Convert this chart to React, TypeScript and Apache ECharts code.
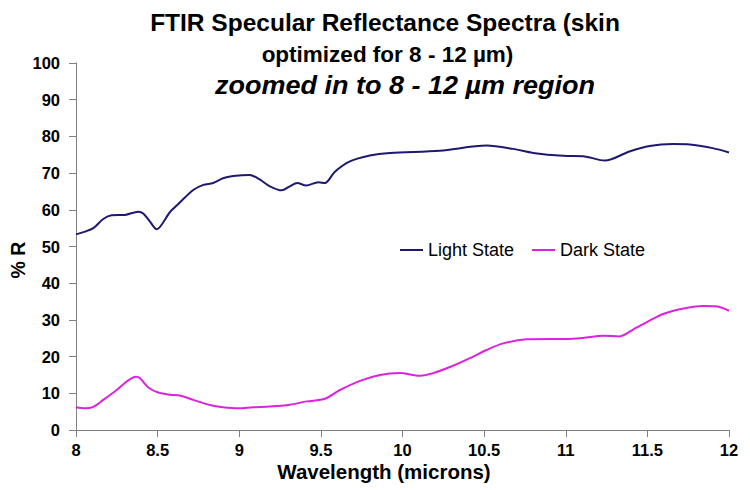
import React, { useEffect, useRef } from "react";
import * as echarts from "echarts";

const titleLines = [
  "FTIR Specular Reflectance Spectra (skin",
  "optimized for 8 - 12 µm)",
  "zoomed in to 8 - 12 µm region",
];
const xAxisName = "Wavelength (microns)";
const yAxisName = "% R";
const seriesNames = ["Light State", "Dark State"];

const lightWavelengths = [
  8.0, 8.05, 8.106, 8.167, 8.218, 8.3, 8.382, 8.412, 8.453, 8.494, 8.576, 8.627,
  8.718, 8.78, 8.84, 8.9, 8.963, 9.065, 9.127, 9.188, 9.26, 9.31, 9.355, 9.41,
  9.484, 9.525, 9.586, 9.678, 9.8, 9.923, 10.229, 10.515, 10.678, 10.8, 10.984,
  11.106, 11.24, 11.39, 11.514, 11.657, 11.76, 11.9, 12.0,
];
const lightValues = [
  53.3, 54.0, 55.0, 57.5, 58.5, 58.6, 59.5, 59.0, 56.8, 54.7, 59.4, 61.6,
  65.4, 66.8, 67.3, 68.6, 69.2, 69.5, 68.2, 66.4, 65.3, 66.4, 67.3, 66.6,
  67.5, 67.3, 70.4, 73.2, 74.8, 75.5, 76.1, 77.5, 76.6, 75.5, 74.7,
  74.6, 73.4, 75.9, 77.4, 77.9, 77.8, 76.8, 75.6,
];

const darkWavelengths = [
  8.0, 8.055, 8.106, 8.167, 8.249, 8.31, 8.367, 8.392, 8.443, 8.504, 8.576,
  8.637, 8.718, 8.82, 8.9, 8.994, 9.086, 9.188, 9.31, 9.413, 9.525, 9.617, 9.74,
  9.862, 9.984, 10.106, 10.188, 10.31, 10.41, 10.515, 10.617, 10.76, 10.9, 11.0,
  11.106, 11.228, 11.33, 11.41, 11.514, 11.596, 11.698, 11.84, 11.92, 12.0,
];
const darkValues = [
  6.2, 5.9, 6.3, 8.2, 10.9, 13.2, 14.5, 14.1, 11.6, 10.2, 9.6,
  9.4, 8.2, 6.8, 6.2, 5.9, 6.2, 6.4, 6.9, 7.8, 8.5, 10.9, 13.4,
  15.0, 15.5, 14.8, 15.5, 17.5, 19.5, 21.8, 23.6, 24.7, 24.8, 24.8,
  25.1, 25.7, 25.5, 27.3, 29.8, 31.6, 32.9, 33.8, 33.7, 32.5,
];

const FONT = "'Liberation Sans', Arial, sans-serif";

export default function App() {
  const ref = useRef<HTMLDivElement>(null);
  useEffect(() => {
    if (!ref.current) return;
    const chart = echarts.init(ref.current, undefined, { renderer: "svg" });
    const lightData = lightWavelengths.map((w, i) => [w, lightValues[i]]);
    const darkData = darkWavelengths.map((w, i) => [w, darkValues[i]]);
    const textStyle = (text: string, size: number, italic: boolean) => ({
      text,
      fontFamily: FONT,
      fontWeight: "bold",
      fontStyle: italic ? "italic" : "normal",
      fontSize: size,
      fill: "#000",
      textAlign: "center",
      textVerticalAlign: "middle",
    });
    chart.setOption({
      animation: false,
      backgroundColor: "#ffffff",
      textStyle: { fontFamily: FONT },
      grid: { left: 76, right: 21, top: 63, bottom: 60, containLabel: false },
      graphic: [
        { type: "text", x: 385, y: 22.5, style: textStyle(titleLines[0], 24.5, false) },
        { type: "text", x: 387.5, y: 54, style: textStyle(titleLines[1], 22.5, false) },
        {
          type: "text",
          x: 405,
          y: 85,
          scaleX: 1.08,
          style: textStyle(titleLines[2], 25, true),
        },
        {
          type: "text",
          x: 17.5,
          y: 260,
          rotation: Math.PI / 2,
          style: textStyle(yAxisName, 19.5, false),
        },
        {
          type: "text",
          x: 384,
          y: 471.5,
          style: textStyle(xAxisName, 20.5, false),
        },
      ],
      legend: {
        left: 400,
        top: 241,
        padding: 0,
        itemWidth: 23,
        itemHeight: 2,
        itemGap: 18,
        icon: "rect",
        textStyle: { fontFamily: FONT, fontSize: 18, color: "#000" },
        data: seriesNames,
      },
      xAxis: {
        type: "value",
        min: 8,
        max: 12,
        interval: 0.5,
        axisLine: { show: true, lineStyle: { color: "#808080", width: 1 } },
        axisTick: { show: true, inside: false, length: 7, lineStyle: { color: "#808080" } },
        axisLabel: { fontFamily: FONT, fontWeight: "bold", fontSize: 16.5, color: "#000", margin: 11 },
        splitLine: { show: false },
      },
      yAxis: {
        type: "value",
        min: 0,
        max: 100,
        interval: 10,
        axisLine: { show: true, lineStyle: { color: "#808080", width: 1 } },
        axisTick: { show: true, inside: false, length: 7, lineStyle: { color: "#808080" } },
        axisLabel: { fontFamily: FONT, fontWeight: "bold", fontSize: 16.5, color: "#000", margin: 16 },
        splitLine: { show: false },
      },
      series: [
        {
          name: seriesNames[0],
          type: "line",
          data: lightData,
          smooth: 0.3,
          showSymbol: false,
          lineStyle: { color: "#1c1a70", width: 2 },
          itemStyle: { color: "#1c1a70" },
        },
        {
          name: seriesNames[1],
          type: "line",
          data: darkData,
          smooth: 0.3,
          showSymbol: false,
          lineStyle: { color: "#dd22dd", width: 2 },
          itemStyle: { color: "#dd22dd" },
        },
      ],
    });
    return () => chart.dispose();
  }, []);
  return (
    <div
      ref={ref}
      style={{ position: "fixed", left: 0, top: 0, width: 750, height: 490 }}
    />
  );
}
